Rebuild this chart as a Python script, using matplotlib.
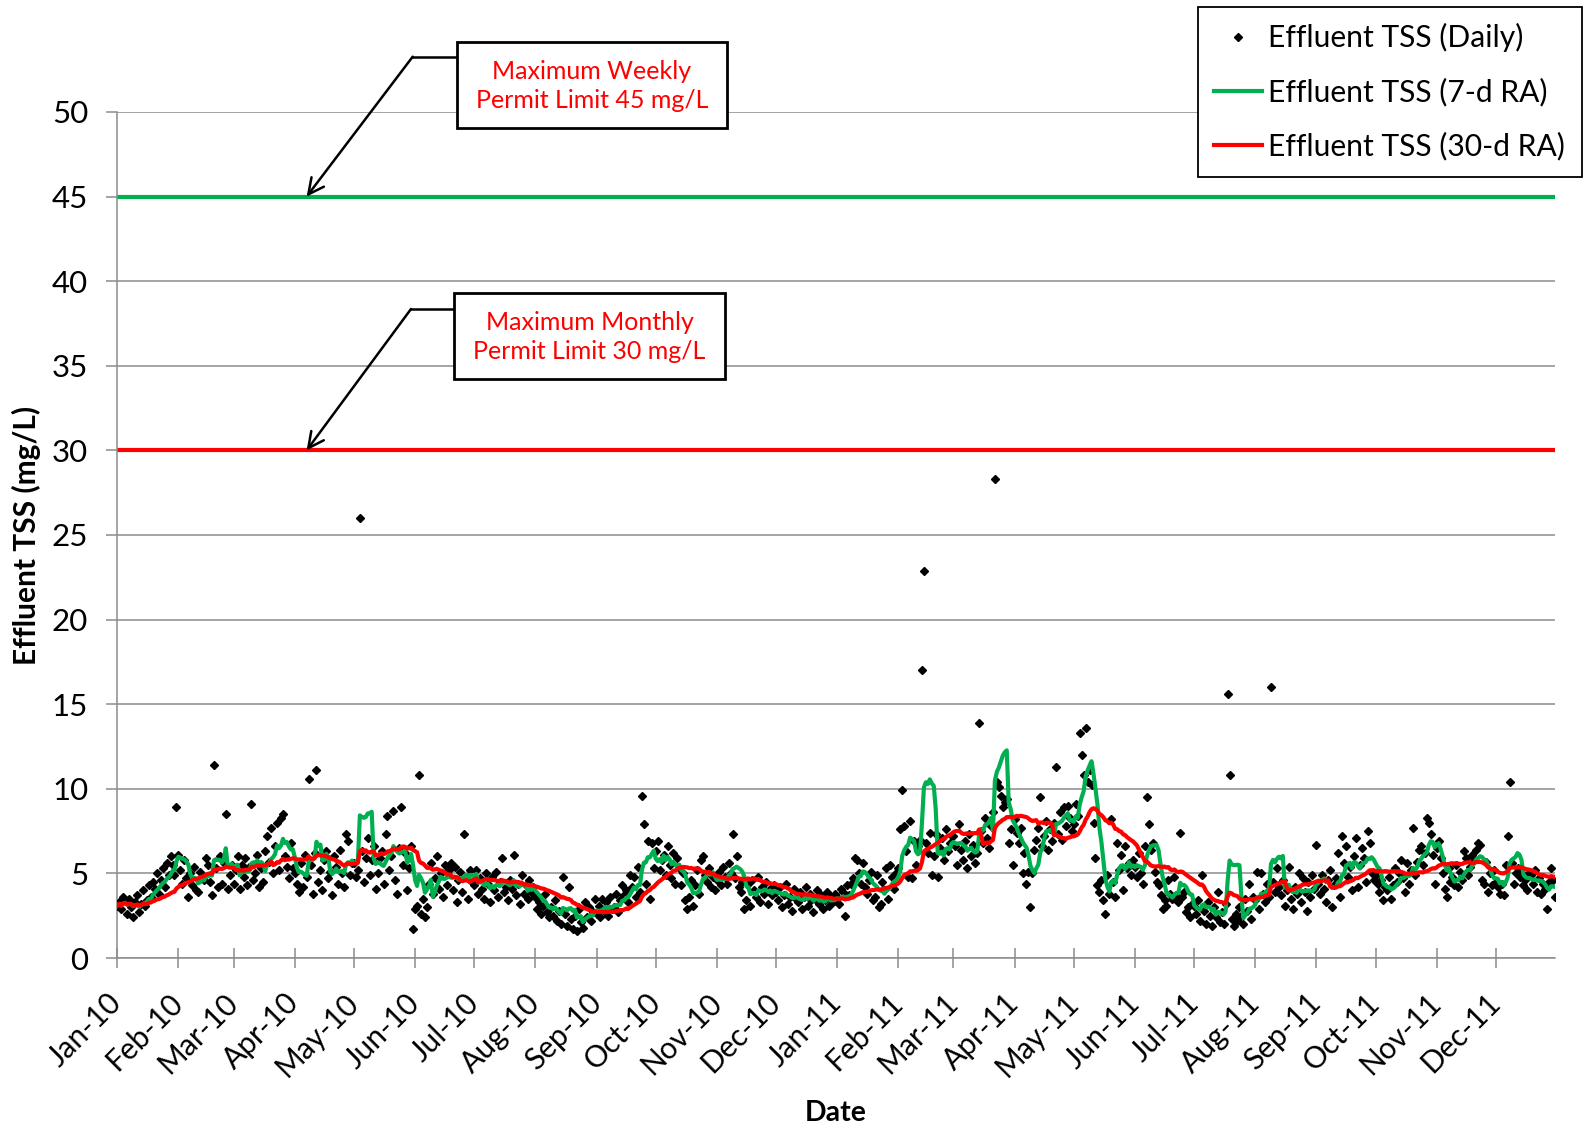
import numpy as np
import pandas as pd
import matplotlib
matplotlib.use("Agg")
import matplotlib.pyplot as plt
import matplotlib.dates as mdates
from matplotlib.lines import Line2D
from matplotlib.patches import Rectangle

plt.rcParams['font.family'] = ['Lato', 'DejaVu Sans']

# daily effluent TSS (mg/L), one list per month
jan10 = [3.1, 3.3, 2.9, 3.6, 3.4, 2.6, 3.5, 3.0, 2.4, 3.3, 3.7, 2.7, 3.2, 4.0, 3.1, 3.4,
         4.3, 3.6, 4.5, 4.1, 5.0, 3.8, 4.6, 5.3, 4.2, 5.6, 4.9, 6.0, 5.5, 4.9, 8.9]
feb10 = [6.1, 5.2, 4.4, 5.8, 4.7, 3.6, 5.0, 4.3, 5.4, 4.0, 3.9, 5.1, 4.8, 4.6, 5.9, 5.5,
         4.5, 3.7, 11.4, 5.3, 4.2, 6.0, 4.4, 5.6, 8.5, 4.1, 4.9, 5.5]
mar10 = [4.4, 5.2, 6.0, 4.1, 5.5, 4.8, 5.9, 4.3, 5.4, 9.1, 4.6, 5.0, 6.1, 4.2, 5.3, 4.5,
         6.3, 7.2, 5.7, 7.7, 5.0, 6.6, 8.0, 5.2, 8.3, 8.5, 6.0, 5.4, 4.7, 6.8, 5.3]
apr10 = [5.0, 4.4, 3.9, 5.6, 4.2, 6.1, 4.8, 10.6, 5.5, 3.8, 6.2, 11.1, 4.5, 5.2, 4.0, 5.8,
         6.3, 4.7, 5.1, 3.7, 6.0, 5.4, 4.4, 6.4, 5.0, 4.2, 7.3, 6.9, 4.9, 5.6]
may10 = [5.6, 4.8, 5.2, 26.0, 6.3, 4.5, 5.9, 7.1, 4.9, 5.8, 6.6, 4.1, 5.0, 5.9, 6.3, 4.4,
         7.3, 8.4, 5.2, 6.0, 8.7, 4.6, 3.8, 6.5, 8.9, 5.5, 6.2, 4.0, 5.3, 6.6, 1.7]
jun10 = [2.9, 3.1, 10.8, 2.6, 3.5, 2.4, 3.0, 4.4, 5.6, 3.8, 4.7, 6.0, 4.1, 5.0, 3.6, 5.5,
         4.3, 5.2, 5.6, 4.0, 5.4, 3.3, 4.6, 5.1, 3.9, 7.3, 4.8, 3.5, 5.2, 4.5]
jul10 = [4.3, 5.2, 3.8, 4.7, 4.1, 3.5, 5.0, 4.4, 3.3, 4.8, 4.0, 5.1, 3.6, 4.5, 5.9, 3.9,
         4.2, 3.4, 4.6, 4.1, 6.1, 3.7, 4.4, 3.2, 4.9, 3.8, 4.3, 3.5, 4.6, 3.9, 4.2]
aug10 = [3.6, 2.9, 3.3, 2.6, 3.1, 3.8, 2.7, 2.4, 3.0, 2.5, 3.4, 2.2, 2.8, 2.0, 4.8, 2.6,
         1.9, 4.2, 2.3, 1.7, 2.5, 1.6, 2.9, 2.1, 1.8, 3.3, 2.4, 3.0, 2.2, 2.7, 3.5]
sep10 = [2.6, 3.1, 2.4, 3.5, 2.8, 3.3, 2.5, 3.6, 2.9, 3.0, 3.8, 2.7, 3.4, 4.3, 3.7, 4.0,
         3.3, 4.9, 4.2, 4.8, 3.6, 5.4, 3.9, 9.6, 7.9, 4.4, 6.9, 3.5, 6.8, 5.3]
oct10 = [6.3, 6.9, 5.2, 5.8, 6.1, 4.9, 6.6, 5.5, 4.7, 6.2, 4.4, 5.9, 5.3, 4.3, 5.0, 3.4,
         2.9, 3.6, 4.6, 3.1, 4.3, 5.2, 3.8, 5.8, 6.0, 4.9, 4.5, 5.3, 4.2, 4.8, 4.0]
nov10 = [4.6, 5.1, 4.3, 5.4, 4.8, 4.4, 5.6, 5.0, 7.3, 4.7, 6.0, 4.2, 3.9, 4.5, 2.9, 3.4,
         4.4, 3.1, 4.6, 4.0, 3.6, 4.8, 3.3, 4.2, 3.8, 4.5, 3.2, 4.1, 3.7, 4.3]
dec10 = [3.9, 3.4, 4.2, 3.0, 3.7, 4.4, 3.2, 3.6, 2.8, 4.1, 3.5, 3.3, 3.9, 2.9, 3.6, 4.2,
         3.1, 3.8, 3.4, 2.7, 3.5, 4.0, 3.2, 3.7, 2.9, 3.4, 3.9, 3.1, 3.6, 3.3, 3.8]
jan11 = [3.6, 3.2, 4.1, 3.9, 2.5, 4.3, 3.7, 4.4, 4.7, 5.9, 5.8, 5.0, 4.4, 5.6, 4.2, 3.8,
         4.6, 5.1, 3.4, 3.6, 4.9, 3.0, 3.2, 4.5, 4.0, 5.3, 3.5, 5.5, 4.8, 4.1, 5.0]
feb11 = [5.3, 7.6, 9.9, 7.8, 6.3, 4.8, 8.1, 4.7, 6.9, 5.5, 6.6, 7.0, 17.0, 22.9, 6.8, 6.2,
         7.4, 4.9, 6.0, 7.3, 4.8, 6.5, 7.1, 5.8, 7.6, 6.3, 6.8, 7.2]
mar11 = [7.2, 6.6, 5.5, 7.9, 6.4, 5.8, 6.9, 5.3, 7.3, 6.0, 6.7, 5.6, 6.2, 13.9, 7.5, 6.8,
         8.3, 7.1, 6.5, 7.8, 8.6, 28.3, 10.4, 10.1, 9.6, 8.9, 9.2, 9.4, 6.8, 7.6, 5.5]
apr11 = [8.2, 7.4, 6.8, 7.7, 5.0, 6.2, 4.4, 5.1, 3.0, 5.0, 6.4, 7.0, 7.7, 9.5, 6.6, 7.2,
         8.1, 6.4, 7.6, 6.9, 8.0, 11.3, 7.3, 8.6, 7.0, 8.9, 7.8, 9.0, 8.3, 7.5]
may11 = [7.9, 9.1, 8.4, 13.3, 12.0, 10.8, 13.6, 10.4, 11.1, 10.2, 8.0, 5.9, 4.3, 3.9, 4.6, 3.4,
         2.6, 4.9, 3.8, 8.2, 4.5, 3.6, 6.8, 5.2, 6.1, 4.0, 6.6, 5.3, 5.6, 4.9, 5.8]
jun11 = [5.4, 4.8, 6.2, 5.0, 4.4, 6.6, 9.5, 7.9, 6.4, 6.8, 5.1, 4.5, 4.3, 3.7, 2.9, 3.4,
         3.1, 4.6, 3.8, 3.5, 4.8, 3.7, 3.3, 7.4, 3.6, 3.9, 2.7, 3.0, 2.4, 3.2]
jul11 = [3.1, 2.6, 3.4, 2.2, 4.9, 2.8, 2.0, 3.3, 2.5, 1.9, 3.0, 2.4, 3.9, 2.1, 2.7, 2.0,
         3.2, 15.6, 10.8, 2.3, 1.9, 2.6, 2.2, 3.0, 2.5, 2.0, 3.5, 2.8, 4.4, 2.3, 3.6]
aug11 = [3.4, 5.1, 2.9, 5.0, 3.8, 3.3, 4.4, 3.6, 16.0, 4.5, 3.9, 5.3, 4.2, 3.7, 4.6, 3.1,
         4.0, 5.4, 3.5, 2.9, 4.2, 3.8, 5.0, 3.3, 4.7, 3.9, 2.8, 4.5, 3.6, 4.9, 4.1]
sep11 = [6.7, 4.4, 3.8, 4.9, 4.1, 3.3, 4.6, 5.2, 3.0, 4.3, 4.7, 6.2, 3.6, 7.2, 5.6, 6.6,
         4.8, 5.4, 4.0, 6.0, 7.1, 4.2, 5.5, 6.5, 5.9, 4.5, 7.5, 6.8, 5.0, 4.6]
oct11 = [4.9, 4.4, 3.9, 4.6, 3.4, 4.2, 4.0, 4.8, 3.5, 4.3, 5.3, 4.5, 5.0, 5.8, 4.7, 3.9,
         5.6, 4.4, 5.2, 7.7, 4.9, 5.7, 6.4, 6.6, 5.5, 6.2, 8.3, 8.0, 7.3, 6.1, 4.4]
nov11 = [6.5, 6.9, 5.9, 5.0, 4.1, 3.6, 5.3, 4.5, 4.8, 4.3, 5.5, 4.2, 5.1, 4.6, 6.3, 5.9,
         4.9, 5.4, 6.1, 5.8, 6.4, 6.8, 6.7, 4.6, 4.4, 5.7, 3.9, 5.0, 4.3, 5.2]
dec11 = [4.5, 4.2, 3.8, 4.4, 3.7, 5.5, 7.2, 10.4, 5.6, 4.4, 5.0, 5.3, 4.8, 5.1, 4.3, 4.6,
         4.0, 5.0, 4.9, 4.4, 5.2, 3.9, 4.7, 3.8, 4.4, 4.1, 2.9, 4.5, 5.3, 4.6, 3.6]

months = [jan10, feb10, mar10, apr10, may10, jun10, jul10, aug10, sep10, oct10, nov10, dec10,
          jan11, feb11, mar11, apr11, may11, jun11, jul11, aug11, sep11, oct11, nov11, dec11]
month_starts = pd.date_range("2010-01-01", periods=24, freq="MS")

weekly_limit = 45
monthly_limit = 30
weekly_text = "Maximum Weekly\nPermit Limit 45 mg/L"
monthly_text = "Maximum Monthly\nPermit Limit 30 mg/L"
arrow_date = pd.Timestamp("2010-04-07")

parts = []
for start, vals in zip(month_starts, months):
    parts.append(pd.Series(vals, index=pd.date_range(start, periods=len(vals), freq="D")))
tss = pd.concat(parts)
ra7 = tss.rolling(7, min_periods=1).mean()
ra30 = tss.rolling(30, min_periods=1).mean()

W, H = 1583, 1124
fig = plt.figure(figsize=(W / 100, H / 100), dpi=100)
ax = fig.add_axes([117.3 / W, 1 - 958 / H, (1555 - 117.3) / W, (958 - 112) / H])


def px(x, y):
    # pixel position (top-left origin) -> figure fraction
    return x / W, 1 - y / H


gray = "#8c8c8c"
green = "#00b050"
red = "#ff0000"

ax.axhline(weekly_limit, color=green, lw=3.0, zorder=2)
ax.axhline(monthly_limit, color=red, lw=3.0, zorder=2)
daily, = ax.plot(tss.index, tss.values, "D", ms=3.7, color="black", ls="none", zorder=3)
l7, = ax.plot(ra7.index, ra7.values, color=green, lw=3.0, zorder=4)
l30, = ax.plot(ra30.index, ra30.values, color=red, lw=3.0, zorder=5)

ax.set_ylim(0, 50)
ax.set_xlim(pd.Timestamp("2010-01-01"), pd.Timestamp("2011-12-31"))
ax.set_yticks(np.arange(0, 51, 5))
ax.yaxis.grid(True, color=gray, lw=1.1)
ax.set_axisbelow(True)
for s in ["top", "right"]:
    ax.spines[s].set_visible(False)
for s in ["left", "bottom"]:
    ax.spines[s].set_color(gray)
    ax.spines[s].set_linewidth(1.1)

ax.xaxis.set_major_locator(mdates.MonthLocator())
ax.xaxis.set_major_formatter(mdates.DateFormatter("%b-%y"))
ax.tick_params(axis="x", direction="inout", length=14, width=1.1, color=gray,
               labelsize=21.5, pad=22)
ax.tick_params(axis="y", direction="out", length=8, width=1.1, color=gray,
               labelsize=22.5, pad=13)
for lab in ax.get_xticklabels():
    lab.set_rotation(45)
    lab.set_ha("right")
    lab.set_va("center")
    lab.set_rotation_mode("anchor")

ax.set_ylabel("Effluent TSS (mg/L)", fontsize=21.5, fontweight="bold")
ax.yaxis.set_label_coords(-0.053, 0.5)
ax.set_xlabel("Date", fontsize=20.5, fontweight="bold")
ax.xaxis.set_label_coords(0.5, -0.168)

# callout boxes with elbow arrows
callouts = [
    (weekly_text, weekly_limit, (456.7, 41.7, 727.3, 127.7), (412.7, 56.7)),
    (monthly_text, monthly_limit, (454.3, 292.8, 725.0, 378.6), (411.0, 309.0)),
]
for text, lim, (x0, y0, x1, y1), (ex, ey) in callouts:
    fx0, fy1 = px(x0, y1)
    fx1, fy0 = px(x1, y0)
    fig.add_artist(Rectangle((fx0, fy1), fx1 - fx0, fy0 - fy1, transform=fig.transFigure,
                             facecolor="white", edgecolor="black", lw=2, zorder=6))
    cx, cy = px((x0 + x1) / 2, (y0 + y1) / 2 + 1)
    fig.text(cx, cy, text, color=red, fontsize=18, ha="center", va="center",
             linespacing=1.32, zorder=7)
    fig.add_artist(Line2D([px(x0, ey)[0], px(ex, ey)[0]], [px(x0, ey)[1], px(ex, ey)[1]],
                          transform=fig.transFigure, color="black", lw=1.8))
    ax.annotate("", xy=(arrow_date, lim), xycoords="data",
                xytext=px(ex, ey), textcoords="figure fraction",
                arrowprops=dict(arrowstyle="->", color="black", lw=1.8,
                                shrinkA=0, shrinkB=0, mutation_scale=28),
                annotation_clip=False)

leg = fig.legend([daily, l7, l30],
                 ["Effluent TSS (Daily)", "Effluent TSS (7-d RA)", "Effluent TSS (30-d RA)"],
                 loc="upper right", bbox_to_anchor=px(1581.7, 6.7), fontsize=21.6,
                 frameon=True, fancybox=False, edgecolor="black", framealpha=1,
                 handlelength=1.6, handletextpad=0.2, labelspacing=0.85,
                 borderpad=0.55, borderaxespad=0, numpoints=1)
leg.get_frame().set_linewidth(1.3)

fig.savefig("out.png", dpi=100)
